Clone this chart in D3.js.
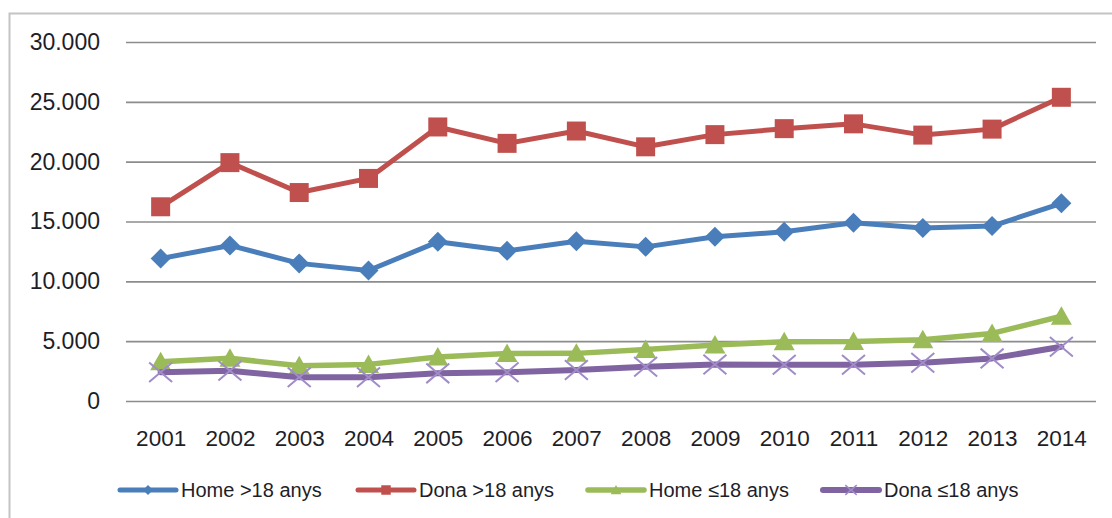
<!DOCTYPE html>
<html>
<head>
<meta charset="utf-8">
<script src="https://cdn.jsdelivr.net/npm/d3@7"></script>
<style>
  html, body { margin: 0; padding: 0; background: #ffffff; }
  svg { display: block; }
</style>
</head>
<body>
<div id="chart"></div>
<script>
// ---- Data ----
const years = ["2001","2002","2003","2004","2005","2006","2007","2008","2009","2010","2011","2012","2013","2014"];
const homeAdult = [11900, 13000, 11500, 10900, 13300, 12550, 13350, 12880, 13720, 14140, 14900, 14450, 14620, 16520];
const donaAdult = [16230, 19920, 17420, 18600, 22900, 21530, 22560, 21240, 22260, 22760, 23160, 22220, 22720, 25380];
const homeMinor = [3290, 3570, 2940, 3060, 3680, 3960, 3980, 4300, 4680, 4960, 4970, 5120, 5650, 7080];
const donaMinor = [2400, 2530, 1990, 1990, 2310, 2400, 2590, 2860, 3050, 3030, 3030, 3200, 3560, 4540];
const seriesNames = ["Home >18 anys", "Dona >18 anys", "Home \u226418 anys", "Dona \u226418 anys"];
const yTicks = [0, 5000, 10000, 15000, 20000, 25000, 30000];

// ---- Layout ----
const W = 1112, H = 518;
const plot = { left: 126, right: 1096, top: 42, bottom: 401 };

const svg = d3.select("#chart").append("svg").attr("width", W).attr("height", H);

// chart frame
svg.append("rect")
  .attr("x", 9.5).attr("y", 13.5)
  .attr("width", 1300).attr("height", 700)
  .attr("fill", "#ffffff")
  .attr("stroke", "#c4c4c4").attr("stroke-width", 2);

const x = d3.scalePoint().domain(years).range([plot.left, plot.right]).padding(0.5);
const y = d3.scaleLinear().domain([0, 30000]).range([plot.bottom, plot.top]);

const loc = d3.formatLocale({ decimal: ",", thousands: ".", grouping: [3], currency: ["", ""] });
const fmt = loc.format(",d");

// y axis with gridlines
const yAxis = d3.axisLeft(y).tickValues(yTicks).tickFormat(fmt)
  .tickSize(-(plot.right - plot.left)).tickPadding(26);
const gy = svg.append("g").attr("transform", `translate(${plot.left},0)`).call(yAxis);
gy.select(".domain").remove();
gy.selectAll(".tick line").attr("stroke", "#8c8c8c").attr("stroke-width", 1.6);
gy.selectAll(".tick text")
  .attr("font-family", "'Liberation Sans', Arial, sans-serif")
  .attr("font-size", 23).attr("fill", "#1e1e28");

// x axis
const xAxis = d3.axisBottom(x).tickSize(0).tickPadding(0);
const gx = svg.append("g").attr("transform", `translate(0,${plot.bottom})`).call(xAxis);
gx.select(".domain").remove();
gx.selectAll(".tick text")
  .attr("font-family", "'Liberation Sans', Arial, sans-serif")
  .attr("font-size", 22.5).attr("fill", "#1e1e28")
  .attr("dy", null).attr("y", 45);

// ---- Marker symbol types ----
const diamond = { draw(ctx, s) { ctx.moveTo(0, -s); ctx.lineTo(s, 0); ctx.lineTo(0, s); ctx.lineTo(-s, 0); ctx.closePath(); } };
const square = { draw(ctx, s) { ctx.rect(-s, -s, 2 * s, 2 * s); } };
const triangle = { draw(ctx, s) { ctx.moveTo(0, -s); ctx.lineTo(s * 1.05, s * 0.85); ctx.lineTo(-s * 1.05, s * 0.85); ctx.closePath(); } };
const cross = { draw(ctx, s) { ctx.moveTo(-s, -s * 0.85); ctx.lineTo(s, s * 0.85); ctx.moveTo(s, -s * 0.85); ctx.lineTo(-s, s * 0.85); } };

const series = [
  { name: seriesNames[0], values: homeAdult, color: "#4a7ebb", type: diamond, size: 10, lw: 5, fillMarker: true },
  { name: seriesNames[1], values: donaAdult, color: "#c0504d", type: square, size: 9.5, lw: 5, fillMarker: true },
  { name: seriesNames[2], values: homeMinor, color: "#9bbb59", type: triangle, size: 10, lw: 5.5, fillMarker: true },
  { name: seriesNames[3], values: donaMinor, color: "#8064a2", markColor: "#a08cc8", type: cross, size: 11.5, lw: 6, fillMarker: false }
];

const line = d3.line().x((d, i) => x(years[i])).y(d => y(d));

series.forEach(s => {
  const g = svg.append("g");
  g.append("path").datum(s.values)
    .attr("d", line).attr("fill", "none")
    .attr("stroke", s.color).attr("stroke-width", s.lw)
    .attr("stroke-linejoin", "round").attr("stroke-linecap", "round");
  g.selectAll("path.m").data(s.values).enter().append("path")
    .attr("class", "m")
    .attr("transform", (d, i) => `translate(${x(years[i])},${y(d)})`)
    .attr("d", d3.symbol().type(s.type).size(s.size))
    .attr("fill", s.fillMarker ? s.color : "none")
    .attr("stroke", s.fillMarker ? "none" : s.markColor)
    .attr("stroke-width", s.fillMarker ? 0 : 2);
});

// ---- Legend ----
const legendY = 490;
const legendX = [120, 358, 588, 823];
const lg = svg.append("g");
series.forEach((s, i) => {
  const g = lg.append("g").attr("transform", `translate(${legendX[i]},${legendY})`);
  g.append("line").attr("x1", 0).attr("x2", 56).attr("y1", 0).attr("y2", 0)
    .attr("stroke", s.color).attr("stroke-width", s.lw).attr("stroke-linecap", "round");
  g.append("path").attr("transform", "translate(28,0)")
    .attr("d", d3.symbol().type(s.type).size(s.size * 0.5))
    .attr("fill", s.fillMarker ? s.color : "none")
    .attr("stroke", s.fillMarker ? "none" : s.markColor)
    .attr("stroke-width", s.fillMarker ? 0 : 1.5);
  g.append("text").attr("x", 61).attr("y", 0).attr("dy", "0.35em")
    .attr("font-family", "'Liberation Sans', Arial, sans-serif")
    .attr("font-size", 20).attr("fill", "#1e1e28")
    .text(s.name);
});
</script>
</body>
</html>
